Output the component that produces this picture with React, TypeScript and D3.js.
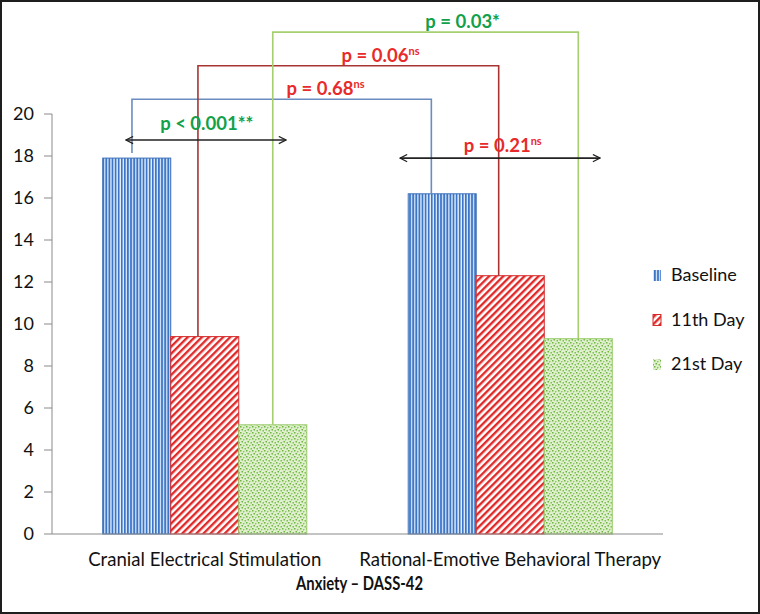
import React from "react";
import * as d3 from "d3";

const categories = ["Cranial Electrical Stimulation", "Rational-Emotive Behavioral Therapy"];
const seriesNames = ["Baseline", "11th Day", "21st Day"];
const baselineValues = [17.9, 16.2];
const day11Values = [9.4, 12.3];
const day21Values = [5.2, 9.3];
const yTicks = [0, 2, 4, 6, 8, 10, 12, 14, 16, 18, 20];
const xTitle = "Anxiety – DASS-42";

// brackets: series index, offset fraction within the bar for left/right leg, top level (value)
const bracketSeries = [0, 1, 2];
const bracketLeftFrac = [0.43, 0.4, 0.5];
const bracketRightFrac = [0.34, 0.33, 0.5];
const bracketTop = [20.7, 22.3, 23.9];

// p-value labels: text, superscript, colour key, x (fraction of plot width), y (value)
const pTexts = ["p = 0.03*", "p = 0.06", "p = 0.68", "p < 0.001**", "p = 0.21"];
const pSups = ["", "ns", "ns", "", "ns"];
const pColors = ["green", "red", "red", "green", "red"];
const pX = [0.611, 0.474, 0.384, 0.177, 0.674];
const pY = [24.1, 22.5, 20.9, 19.25, 18.2];

// double arrows: category index, start/end fraction of band, level (value)
const arrowCat = [0, 1];
const arrowFrom = [0.242, 0.139];
const arrowTo = [0.766, 0.794];
const arrowY = [18.76, 17.9];

const W = 760;
const H = 614;
const left = 52;
const right = 663;
const bottom = 534;
const top = 114;

const font = "Lato, 'Open Sans', sans-serif";

export default function App() {
  const y = d3.scaleLinear().domain([0, 20]).range([bottom, top]);
  const x0 = d3.scaleBand<string>().domain(categories).range([left, right]).padding(0);
  const bw = x0.bandwidth();
  const x1 = d3
    .scaleBand<string>()
    .domain(seriesNames)
    .range([bw * 0.166, bw * 0.834])
    .padding(0);
  const fx = d3.scaleLinear().domain([0, 1]).range([left, right]);
  const values = [baselineValues, day11Values, day21Values];
  const fills = ["url(#pBlue)", "url(#pRed)", "url(#pGreen)"];
  const strokes = ["#3d6fb8", "#d62a2a", "#9acb6b"];
  const bracketColors = ["#6a8cbf", "#a83434", "#a6cf70"];
  const textColor: Record<string, string> = { green: "#12a04a", red: "#e82a2a" };

  const barX = (s: number, c: number) => (x0(categories[c]) as number) + (x1(seriesNames[s]) as number);
  const barW = x1.bandwidth();

  return (
    <svg
      width={W}
      height={H}
      style={{ position: "absolute", left: 0, top: 0, background: "#fff" }}
      fontFamily={font}
    >
      <defs>
        <pattern id="pBlue" patternUnits="userSpaceOnUse" width="3.1" height="4">
          <rect width="3.1" height="4" fill="#e4eefa" />
          <rect x="0" width="1.6" height="4" fill="#3c74c6" />
          <rect x="1.6" width="0.6" height="4" fill="#9fc2ea" />
        </pattern>
        <pattern
          id="pRed"
          patternUnits="userSpaceOnUse"
          width="5"
          height="5"
          patternTransform="rotate(45)"
        >
          <rect width="5" height="5" fill="#fff" />
          <rect width="2.4" height="5" fill="#e02a2a" />
        </pattern>
        <pattern id="pGreen" patternUnits="userSpaceOnUse" width="6" height="6">
          <rect width="6" height="6" fill="#dcefc8" />
          <rect x="0" y="0" width="1.5" height="1.5" fill="#6db443" />
          <rect x="3" y="1" width="1.5" height="1.5" fill="#8cc865" />
          <rect x="1.5" y="3" width="1.5" height="1.5" fill="#6db443" />
          <rect x="4.5" y="4" width="1.5" height="1.5" fill="#7fc055" />
          <rect x="4" y="2.5" width="1" height="1" fill="#f4faee" />
          <rect x="0.5" y="4.8" width="1" height="1" fill="#f4faee" />
        </pattern>
        <marker
          id="arrow"
          viewBox="0 0 10 10"
          refX="9"
          refY="5"
          markerWidth="9"
          markerHeight="9"
          markerUnits="userSpaceOnUse"
          orient="auto-start-reverse"
        >
          <path d="M1,1 L9,5 L1,9" fill="none" stroke="#222" strokeWidth="1.4" />
        </marker>
      </defs>

      {/* outer frame */}
      <rect x={1} y={1} width={W - 2} height={H - 2} fill="none" stroke="#1e1e1e" strokeWidth={2} />

      {/* y axis */}
      <line x1={left} x2={left} y1={y(0)} y2={y(20)} stroke="#8a8a8a" strokeWidth={1} />
      {yTicks.map((t) => (
        <g key={t}>
          <line x1={left - 8} x2={left} y1={y(t)} y2={y(t)} stroke="#8a8a8a" />
          <text x={34} y={y(t)} dy="0.36em" textAnchor="end" fontSize={18} fill="#111">
            {t}
          </text>
        </g>
      ))}

      {/* bars */}
      {values.map((vals, s) =>
        vals.map((v, c) => (
          <rect
            key={`${s}-${c}`}
            x={barX(s, c)}
            y={y(v)}
            width={barW}
            height={y(0) - y(v)}
            fill={fills[s]}
            stroke={strokes[s]}
            strokeWidth={1}
          />
        ))
      )}

      {/* x axis */}
      <line x1={left} x2={right} y1={y(0)} y2={y(0)} stroke="#8a8a8a" strokeWidth={1.2} />
      {categories.map((c) => (
        <text
          key={c}
          x={(x0(c) as number) + bw / 2}
          y={566}
          textAnchor="middle"
          fontSize={18.6}
          fill="#111"
        >
          {c}
        </text>
      ))}
      <text
        x={296}
        y={590}
        fontSize={18}
        fontWeight="bold"
        textLength={127}
        lengthAdjust="spacingAndGlyphs"
        fill="#111"
      >
        {xTitle}
      </text>

      {/* brackets */}
      {bracketSeries.map((s, i) => {
        const xl = barX(s, 0) + barW * bracketLeftFrac[i];
        const xr = barX(s, 1) + barW * bracketRightFrac[i];
        const yl = s === 0 ? y(values[s][0]) - 5 : y(values[s][0]);
        const yr = y(values[s][1]);
        const yt = y(bracketTop[i]);
        return (
          <path
            key={i}
            d={`M${xl},${yl} L${xl},${yt} L${xr},${yt} L${xr},${yr}`}
            fill="none"
            stroke={bracketColors[i]}
            strokeWidth={1.6}
          />
        );
      })}

      {/* double arrows */}
      {arrowCat.map((c, i) => {
        const bx = x0(categories[c]) as number;
        return (
          <line
            key={i}
            x1={bx + bw * arrowFrom[i]}
            x2={bx + bw * arrowTo[i]}
            y1={y(arrowY[i])}
            y2={y(arrowY[i])}
            stroke="#222"
            strokeWidth={1.6}
            markerStart="url(#arrow)"
            markerEnd="url(#arrow)"
          />
        );
      })}

      {/* p labels */}
      {pTexts.map((t, i) => (
        <text
          key={i}
          x={fx(pX[i])}
          y={y(pY[i])}
          fontSize={18.5}
          fontWeight="bold"
          fill={textColor[pColors[i]]}
        >
          {t}
          {pSups[i] && (
            <tspan fontSize={11} dy={-7}>
              {pSups[i]}
            </tspan>
          )}
        </text>
      ))}

      {/* legend */}
      {seriesNames.map((n, s) => {
        const ly = 275 + s * 44.5;
        return (
          <g key={n}>
            <rect x={653} y={ly - 5} width={8} height={11} fill={fills[s]} stroke={s === 1 ? strokes[s] : "none"} />
            <text x={671} y={ly} dy="0.36em" fontSize={18} fill="#111">
              {n}
            </text>
          </g>
        );
      })}
    </svg>
  );
}
